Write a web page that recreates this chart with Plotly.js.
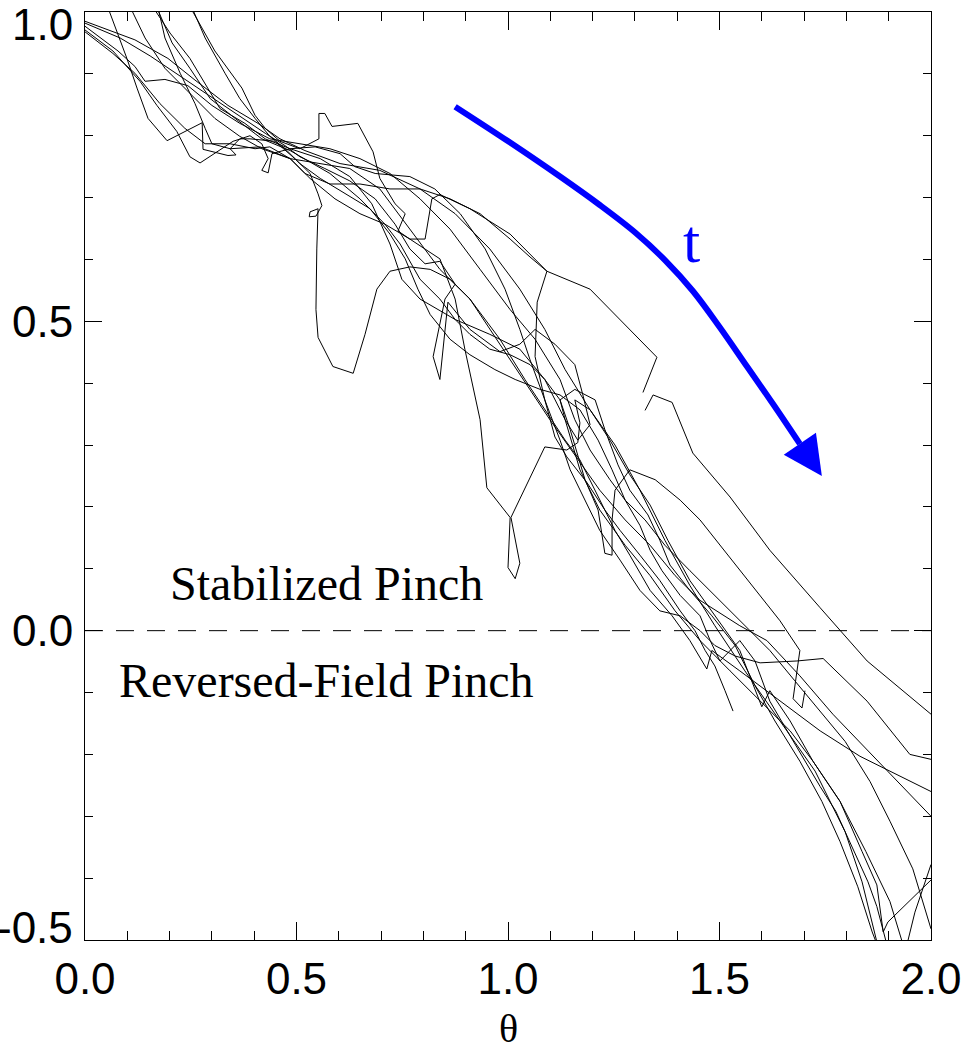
<!DOCTYPE html>
<html>
<head>
<meta charset="utf-8">
<script src="https://cdn.plot.ly/plotly-3.0.1.min.js"></script>
<style>html,body{margin:0;padding:0;background:#fff;}#chart{width:965px;height:1046px;}</style>
</head>
<body>
<div id="chart"></div>
<script>
// ---- data (theta, F) ----
const s1x = [0,0.118,0.196,0.260,0.338,0.409,0.461,0.520,0.603,0.697,0.792,0.875,0.957,1.028,1.087,1.135,1.194,1.253,1.312,1.371,1.430,1.489,1.560,1.643,1.726,1.797,1.837,1.872,1.876];
const s1y = [0.985,0.955,0.925,0.890,0.849,0.820,0.795,0.776,0.755,0.744,0.714,0.674,0.617,0.552,0.487,0.422,0.357,0.300,0.227,0.146,0.073,0.008,-0.065,-0.146,-0.227,-0.325,-0.406,-0.503,-0.52];

const s2x = [0,0.066,0.130,0.170,0.217,0.248,0.272,0.350,0.390,0.418,0.433,0.418,0.433,0.442,0.485,0.556,0.626,0.678,0.721,0.749,0.792,0.875,0.957,1.028,1.087,1.135,1.170,1.217,1.277,1.336,1.395,1.454,1.525,1.596,1.667,1.721,1.785,1.837,1.872,1.887,1.898,2.0];
const s2y = [0.971,0.937,0.888,0.849,0.807,0.766,0.756,0.791,0.800,0.787,0.763,0.744,0.740,0.771,0.779,0.763,0.734,0.690,0.625,0.568,0.536,0.503,0.479,0.455,0.406,0.341,0.260,0.195,0.138,0.089,0.032,-0.016,-0.065,-0.114,-0.162,-0.211,-0.276,-0.357,-0.411,-0.487,-0.471,-0.403];

const s3x = [0.050,0.099,0.123,0.149,0.194,0.277,0.279,0.338,0.357,0.343,0.366,0.390,0.449,0.496,0.532,0.551,0.560,0.546,0.530,0.532,0.551,0.548,0.546,0.551,0.586,0.634,0.662,0.690,0.721,0.768,0.816,0.863,0.910,0.957,1.005,1.052,1.099,1.158,1.217,1.277,1.336,1.395,1.454,1.548,1.612,1.690,1.768,1.879,2.0];
const s3y = [1.015,0.925,0.877,0.828,0.792,0.821,0.778,0.768,0.769,0.779,0.795,0.795,0.791,0.763,0.739,0.706,0.687,0.670,0.669,0.677,0.682,0.617,0.519,0.474,0.427,0.416,0.479,0.552,0.581,0.588,0.584,0.568,0.536,0.487,0.438,0.390,0.341,0.284,0.227,0.179,0.138,0.089,0.049,0.008,-0.016,-0.073,-0.135,-0.214,-0.300];

const s4x = [0.102,0.142,0.189,0.248,0.307,0.366,0.418,0.485,0.556,0.626,0.697,0.768,0.839,0.910,0.981,1.040,1.087,1.135,1.170,1.217,1.253,1.288,1.336,1.388,1.430,1.470,1.482,1.548,1.643,1.738,1.832,1.927,2.0];
const s4y = [1.015,0.958,0.909,0.868,0.828,0.799,0.779,0.763,0.755,0.747,0.714,0.649,0.584,0.536,0.471,0.406,0.357,0.308,0.276,0.211,0.162,0.122,0.065,0.024,-0.016,-0.062,-0.032,-0.065,-0.114,-0.162,-0.203,-0.235,-0.260];

const s5x = [0.154,0.201,0.248,0.284,0.319,0.378,0.426,0.485,0.544,0.603,0.638,0.686,0.768,0.827,0.887,0.946,0.993,1.028,1.052,1.087,1.123,1.147,1.182,1.217,1.265,1.312,1.359,1.407,1.454,1.489,1.537,1.596,1.683,1.745,1.849,1.950,2.0];
const s5y = [1.015,0.966,0.925,0.885,0.844,0.820,0.795,0.779,0.782,0.771,0.750,0.739,0.734,0.714,0.674,0.617,0.552,0.487,0.438,0.373,0.308,0.260,0.211,0.162,0.114,0.065,0.032,0.024,0.000,-0.024,-0.041,-0.052,-0.049,-0.045,-0.114,-0.200,-0.208];

const s6x = [0.170,0.189,0.225,0.260,0.284,0.300,0.343,0.414,0.485,0.532,0.591,0.650,0.709,0.768,0.839,0.875,0.898,0.934,0.950,1.005,1.000,1.017,1.028,1.007,1.087,1.139,1.165,1.170,1.158,1.194,1.241,1.288,1.336,1.378,1.430,1.489,1.548,1.600,1.619,1.667,1.721,1.785,1.846,1.903,1.939,1.962,2.0];
const s6y = [1.015,0.958,0.901,0.852,0.812,0.787,0.779,0.782,0.763,0.731,0.698,0.674,0.657,0.633,0.601,0.536,0.455,0.341,0.231,0.183,0.102,0.084,0.109,0.183,0.297,0.292,0.304,0.336,0.373,0.357,0.308,0.252,0.203,0.146,0.081,0.024,-0.032,-0.123,-0.097,-0.146,-0.211,-0.276,-0.357,-0.438,-0.519,-0.455,-0.378];

const s7x = [0.243,0.307,0.371,0.402,0.426,0.461,0.508,0.553,0.553,0.567,0.584,0.645,0.681,0.697,0.733,0.757,0.740,0.768,0.804,0.820,0.839,0.910,1.005,1.092,1.194,1.352,1.319,null,1.324,1.343,1.388,1.437,1.525,1.619,1.738,1.849,2.0];
const s7y = [1.015,0.937,0.877,0.833,0.812,0.791,0.779,0.795,0.836,0.836,0.815,0.820,0.774,0.731,0.690,0.674,0.646,0.633,0.633,0.698,0.705,0.682,0.641,0.581,0.552,0.442,0.385,null,0.356,0.381,0.369,0.287,0.216,0.130,0.037,-0.049,-0.135];

const s8x = [0,0.078,0.118,0.142,0.189,0.243,0.300,0.366,0.437,0.508,0.579,0.650,0.721,0.792,0.863,0.934,1.005,1.064,1.123,1.158,1.194,1.241,1.277,1.324,1.371,1.430,1.501,1.560,1.619,1.678,1.738,1.797,1.856,1.903,1.957,2.0];
const s8y = [0.977,0.937,0.912,0.888,0.891,0.881,0.849,0.820,0.795,0.787,0.779,0.763,0.739,0.698,0.649,0.584,0.519,0.471,0.406,0.341,0.292,0.244,0.211,0.179,0.138,0.097,0.049,0.008,-0.032,-0.081,-0.130,-0.179,-0.244,-0.308,-0.385,-0.482];

const s9x = [0,0.066,0.118,0.177,0.236,0.284,0.343,0.402,0.437,0.485,0.520,0.579,0.650,0.721,0.792,0.863,0.934,1.005,1.052,1.092,1.069,1.064,1.087,1.111,1.139,1.187,1.229,1.265,1.312,1.359,1.407,1.442,1.466,1.489,1.513,1.532];
const s9y = [0.968,0.933,0.901,0.852,0.812,0.787,0.787,0.779,0.782,0.763,0.739,0.722,0.722,0.714,0.714,0.698,0.674,0.633,0.604,0.581,0.531,0.443,0.373,0.313,0.281,0.239,0.195,0.162,0.122,0.081,0.032,0.000,-0.032,-0.057,-0.097,-0.130];

const s10x = [0.165,0.206,0.248,0.296,0.355,0.418,0.485,0.579,0.650,0.709,0.745,0.792,0.839,0.875,0.910,0.957,1.005,1.052,1.087,1.123,1.147,1.182,1.213,1.229,1.246,1.246,1.253,1.288,1.348,1.407,1.454,1.501,1.548,1.596,1.643,1.690,1.674,1.695,1.702];
const s10y = [1.015,0.950,0.909,0.860,0.828,0.795,0.776,0.739,0.698,0.657,0.625,0.568,0.536,0.503,0.479,0.455,0.446,0.430,0.406,0.373,0.325,0.244,0.195,0.125,0.122,0.179,0.227,0.260,0.244,0.211,0.179,0.138,0.097,0.057,0.016,-0.032,-0.110,-0.125,-0.097];

const s11x = [0,0.083,0.154,0.225,0.296,0.366,0.426,0.473,0.508,0.567,0.626,0.686,0.733,0.768,0.804,0.839,0.875,0.851,0.823,0.839,0.858,0.910,0.981,1.028,1.064,1.111,1.158,1.177,1.194,1.165,1.135,1.123,1.158,1.206,1.229,1.260,1.288,1.331,1.359,1.383,1.430,1.482,1.537,1.584,1.631,1.690,1.742,1.785,1.827,1.861,1.879];
const s11y = [0.982,0.958,0.929,0.896,0.864,0.831,0.804,0.784,0.766,0.747,0.727,0.698,0.657,0.617,0.593,0.597,0.560,0.536,0.443,0.406,0.531,0.487,0.451,0.463,0.487,0.463,0.430,0.381,0.333,0.308,0.341,0.373,0.390,0.373,0.325,0.268,0.227,0.187,0.146,0.106,0.065,0.024,-0.024,-0.089,-0.146,-0.211,-0.276,-0.341,-0.414,-0.487,-0.519];

const s12x = [0.248,0.284,0.331,0.366,0.402,0.437,0.473,0.508,0.556,0.615,0.674,0.721,0.757,0.787,0.816,0.863,0.910,0.969,1.017,1.076,1.123,1.170,1.213,1.246,1.277,1.312,1.336,1.364,1.407,1.454,1.478,1.501,1.548,1.584,1.619,1.667,1.702,1.738,1.775,1.813,1.851,1.872,1.894,1.898];
const s12y = [1.015,0.958,0.901,0.860,0.828,0.799,0.779,0.755,0.731,0.706,0.682,0.641,0.601,0.552,0.511,0.471,0.446,0.422,0.406,0.390,0.381,0.357,0.308,0.260,0.211,0.170,0.130,0.097,0.057,0.024,-0.016,-0.049,-0.016,-0.049,-0.114,-0.170,-0.211,-0.252,-0.292,-0.349,-0.406,-0.446,-0.503,-0.519];

const seriesX = [s1x,s2x,s3x,s4x,s5x,s6x,s7x,s8x,s9x,s10x,s11x,s12x];
const seriesY = [s1y,s2y,s3y,s4y,s5y,s6y,s7y,s8y,s9y,s10y,s11y,s12y];

// time arrow (blue)
const arrowX = [0.875,1.005,1.123,1.217,1.300,1.371,1.437,1.501,1.565,1.629,1.690];
const arrowY = [0.847,0.789,0.734,0.688,0.644,0.599,0.549,0.490,0.427,0.364,0.302];
const arrowTip = [1.742,0.250];

// axis ticks
const xTickVals = [0,0.5,1.0,1.5,2.0];
const xTickText = ['0.0','0.5','1.0','1.5','2.0'];
const yTickVals = [-0.5,0,0.5,1.0];
const yTickText = ['-0.5','0.0','0.5','1.0'];
const yLabelShift = [13,0,0,-12];
const xTitle = 'θ';

const sans = 'Liberation Sans, Arial, Helvetica, sans-serif';
const serif = 'Liberation Serif, Times New Roman, serif';

const traces = seriesX.map((xs,i)=>({
  x: xs, y: seriesY[i], type:'scatter', mode:'lines',
  line:{color:'#000', width:1}, connectgaps:false, hoverinfo:'skip', showlegend:false
}));
traces.push({x:arrowX, y:arrowY, type:'scatter', mode:'lines',
  line:{color:'#0000ff', width:6, shape:'spline', smoothing:1}, hoverinfo:'skip', showlegend:false});

const annotations = yTickVals.map((v,i)=>({
  x:-0.012, xref:'paper', y:v, yref:'y', xanchor:'right', yanchor:'middle',
  yshift: yLabelShift[i], text: yTickText[i], showarrow:false,
  font:{family:sans, size:44, color:'#000'}
}));
annotations.push(
  {x:0.5, xref:'paper', y:-0.095, yref:'paper', xanchor:'center', yanchor:'middle', text:xTitle,
   showarrow:false, font:{family:serif, size:40, color:'#000'}},
  {x:0.571, y:0.076, xref:'x', yref:'y', text:'Stabilized Pinch', showarrow:false,
   font:{family:serif, size:48, color:'#000'}},
  {x:0.571, y:-0.081, xref:'x', yref:'y', text:'Reversed-Field Pinch', showarrow:false,
   font:{family:serif, size:48, color:'#000'}},
  {x:1.433, y:0.63, xref:'x', yref:'y', text:'t', showarrow:false,
   font:{family:serif, size:62, color:'#0000ff'}},
  {x:arrowTip[0], y:arrowTip[1], xref:'x', yref:'y', ax:arrowX[arrowX.length-1], ay:arrowY[arrowY.length-1],
   axref:'x', ayref:'y', text:'', showarrow:true, arrowhead:2, arrowsize:1.3, arrowwidth:6,
   arrowcolor:'#0000ff', standoff:0, startstandoff:0}
);

const layout = {
  width:965, height:1046,
  margin:{l:85, r:34, t:12, b:106},
  paper_bgcolor:'#fff', plot_bgcolor:'#fff',
  showlegend:false,
  xaxis:{range:[0,2], showgrid:false, zeroline:false, showline:true, linecolor:'#000', linewidth:1,
    mirror:'ticks', ticks:'inside', ticklen:18, tickwidth:1, tickcolor:'#000',
    tickvals:xTickVals, ticktext:xTickText, tickfont:{family:sans, size:44, color:'#000'},
    ticklabelstandoff:0,
    minor:{dtick:0.1, ticks:'inside', ticklen:9, tickwidth:1, tickcolor:'#000', showgrid:false}},
  yaxis:{range:[-0.5,1.0], showgrid:false, zeroline:false, showline:true, linecolor:'#000', linewidth:1,
    mirror:'ticks', ticks:'inside', ticklen:17, tickwidth:1, tickcolor:'#000',
    tickvals:yTickVals, showticklabels:false,
    minor:{dtick:0.1, ticks:'inside', ticklen:8, tickwidth:1, tickcolor:'#000', showgrid:false}},
  shapes:[{type:'line', xref:'paper', x0:0, x1:1, yref:'y', y0:0, y1:0,
    line:{color:'#000', width:1, dash:'18px,13px'}}],
  annotations: annotations
};

Plotly.newPlot('chart', traces, layout, {staticPlot:true, displayModeBar:false});
</script>
</body>
</html>
